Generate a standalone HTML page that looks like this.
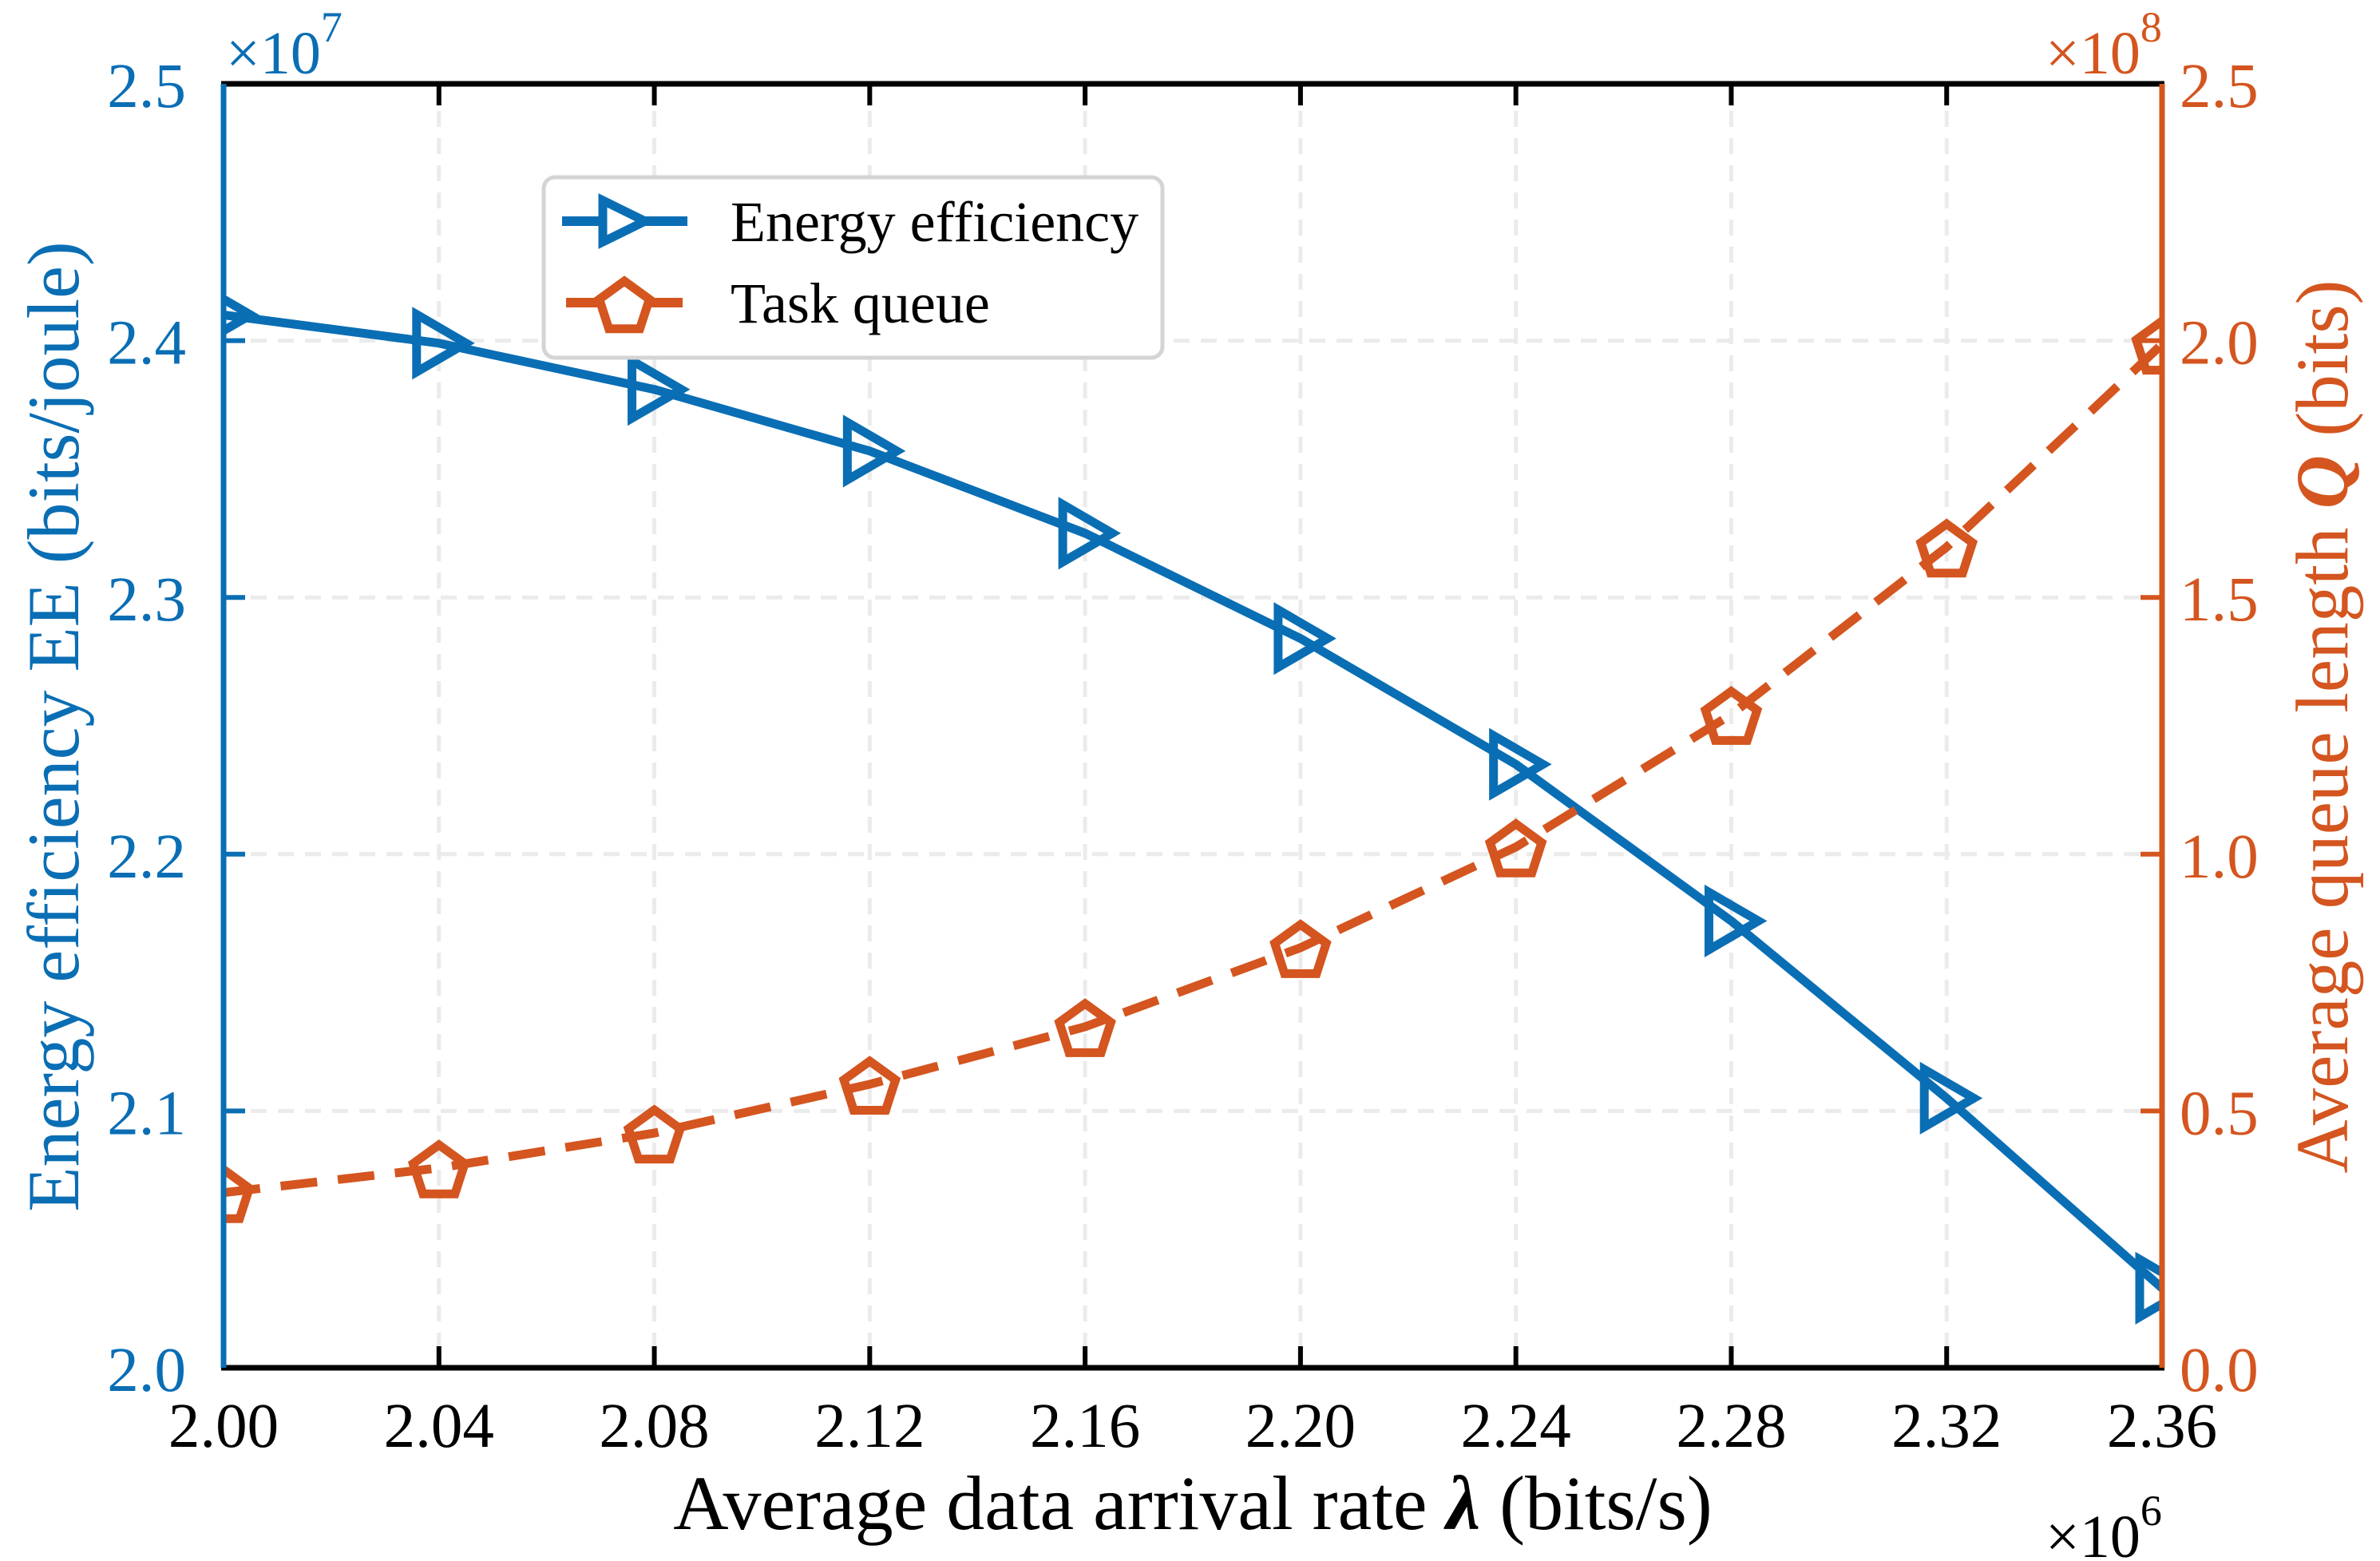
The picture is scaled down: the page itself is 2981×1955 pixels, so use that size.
<!DOCTYPE html>
<html><head><meta charset="utf-8"><style>
html,body{margin:0;padding:0;background:#fff;}
svg{display:block;font-family:"Liberation Serif",serif;}
</style></head><body>
<svg id="chart" width="2981" height="1955" viewBox="0 0 2981 1955" xmlns="http://www.w3.org/2000/svg">
<defs><clipPath id="plotclip"><rect x="280" y="105" width="2428" height="1608"/></clipPath></defs>
<g id="grid"></g>
<g id="series" clip-path="url(#plotclip)"></g>
<g id="axes"></g>
<g id="legend">
  <rect x="681" y="222" width="775" height="226" rx="14" fill="#fff" stroke="#d4d4d4" stroke-width="5"/>
  <g>
    <line x1="704" y1="277" x2="861" y2="277" stroke="#0a6eb4" stroke-width="12"/>
    <polygon points="755,251 808,277 755,303" fill="#fff" stroke="#0a6eb4" stroke-width="11"/>
    <text x="915" y="302" font-size="72" fill="#000">Energy efficiency</text>
  </g>
  <g>
    <line x1="709" y1="379" x2="855" y2="379" stroke="#d4551f" stroke-width="12"/>
    <polygon id="legpent" fill="#fff" stroke="#d4551f" stroke-width="11"/>
    <text x="915" y="404" font-size="72" fill="#000">Task queue</text>
  </g>
</g>
</svg>
<script>
const xTicks=[2.00,2.04,2.08,2.12,2.16,2.20,2.24,2.28,2.32,2.36];
const xTickLabels=["2.00","2.04","2.08","2.12","2.16","2.20","2.24","2.28","2.32","2.36"];
const yLeftTicks=[2.0,2.1,2.2,2.3,2.4,2.5];
const yLeftLabels=["2.0","2.1","2.2","2.3","2.4","2.5"];
const yRightTicks=[0,0.5,1.0,1.5,2.0,2.5];
const yRightLabels=["0.0","0.5","1.0","1.5","2.0","2.5"];
const xValues=[2.00,2.04,2.08,2.12,2.16,2.20,2.24,2.28,2.32,2.36];
const energyValues=[2.410,2.399,2.381,2.357,2.325,2.284,2.235,2.174,2.105,2.031];
const queueValues=[0.341,0.389,0.457,0.552,0.664,0.818,1.014,1.272,1.598,1.993];

const L=280,R=2708,T=105,B=1713;
const BLUE="#0a6eb4",ORANGE="#d4551f";
const NS="http://www.w3.org/2000/svg";
function X(v){return L+(v-2.00)/(0.36)*(R-L);}
function YL(v){return B-(v-2.0)/0.5*(B-T);}
function YR(v){return B-(v-0)/2.5*(B-T);}
function mk(tag,attrs,parent){const e=document.createElementNS(NS,tag);for(const k in attrs)e.setAttribute(k,attrs[k]);parent.appendChild(e);return e;}
function pent(cx,cy,r){let p=[];for(let i=0;i<5;i++){const a=-Math.PI/2+i*2*Math.PI/5;p.push((cx+r*Math.cos(a)).toFixed(1)+","+(cy+r*Math.sin(a)).toFixed(1));}return p.join(" ");}
document.getElementById('legpent').setAttribute('points',pent(782,385,33));

const grid=document.getElementById('grid'),series=document.getElementById('series'),axes=document.getElementById('axes');
xTicks.forEach((t,i)=>{
  const x=X(t);
  if(i>0&&i<xTicks.length-1){
    const g=mk('line',{x1:x,y1:T,x2:x,y2:B,stroke:'#ebebeb','stroke-width':5,'stroke-dasharray':'20,14'},grid);
    
    
  }
  const tb=mk('line',{x1:x,y1:B,x2:x,y2:B-27,stroke:'#000','stroke-width':6},axes);
  
  
  const tt=mk('line',{x1:x,y1:T,x2:x,y2:T+27,stroke:'#000','stroke-width':6},axes);
  
  
  const lb=mk('text',{x:x,y:B+99,'font-size':79,'text-anchor':'middle',fill:'#000'},axes);
  lb.textContent=xTickLabels[i];
  
  
});
yLeftTicks.forEach((t,i)=>{
  const y=YL(t);
  if(i>0&&i<yLeftTicks.length-1){
    const g=mk('line',{x1:L,y1:y,x2:R,y2:y,stroke:'#ebebeb','stroke-width':5,'stroke-dasharray':'20,14'},grid);
    
    
  }
  const tk=mk('line',{x1:L,y1:y,x2:L+27,y2:y,stroke:BLUE,'stroke-width':6},axes);
  
  
  const lb=mk('text',{x:L-47,y:y+29,'font-size':79,'text-anchor':'end',fill:BLUE},axes);
  lb.textContent=yLeftLabels[i];
  
  
});
yRightTicks.forEach((t,i)=>{
  const y=YR(t);
  const tk=mk('line',{x1:R,y1:y,x2:R-27,y2:y,stroke:ORANGE,'stroke-width':6},axes);
  
  
  const lb=mk('text',{x:R+22,y:y+29,'font-size':79,'text-anchor':'start',fill:ORANGE},axes);
  lb.textContent=yRightLabels[i];
  
  
});
let a=mk('line',{x1:L-3,y1:T,x2:R+3,y2:T,stroke:'#000','stroke-width':7},axes);

a=mk('line',{x1:L-3,y1:B,x2:R+3,y2:B,stroke:'#000','stroke-width':7},axes);

a=mk('line',{x1:L,y1:T,x2:L,y2:B,stroke:BLUE,'stroke-width':7},axes);

a=mk('line',{x1:R,y1:T,x2:R,y2:B,stroke:ORANGE,'stroke-width':7},axes);


const ep=xValues.map((x,i)=>X(x)+","+YL(energyValues[i])).join(" ");
const eline=mk('polyline',{points:ep,fill:'none',stroke:BLUE,'stroke-width':11,'stroke-linejoin':'round'},series);


const qp=xValues.map((x,i)=>X(x)+","+YR(queueValues[i])).join(" ");
const qline=mk('polyline',{points:qp,fill:'none',stroke:ORANGE,'stroke-width':11,'stroke-dasharray':'46,26'},series);


xValues.forEach((x,i)=>{
  const cx=X(x),cy=YL(energyValues[i]);
  const m=mk('polygon',{points:(cx-28)+","+(cy-36)+" "+(cx+34)+","+cy+" "+(cx-28)+","+(cy+36),fill:'none',stroke:BLUE,'stroke-width':11},series);
  
  
  const qy=YR(queueValues[i]);
  const q=mk('polygon',{points:pent(cx,qy+5,34),fill:'none',stroke:ORANGE,'stroke-width':11},series);
  
  
});
</script>
<svg style="position:absolute;left:0;top:0" width="2981" height="1955" xmlns="http://www.w3.org/2000/svg" font-family="Liberation Serif, serif">
  <text x="283" y="92" font-size="76" fill="#0a6eb4">×10<tspan font-size="54" dy="-40">7</tspan></text>
  <text x="2562" y="92" font-size="76" fill="#d4551f">×10<tspan font-size="54" dy="-40">8</tspan></text>
  <text x="2562" y="1950" font-size="76" fill="#000">×10<tspan font-size="54" dy="-40">6</tspan></text>
  <text x="1494" y="1915" font-size="96" text-anchor="middle" fill="#000">Average data arrival rate <tspan font-style="italic" font-weight="bold">λ</tspan> (bits/s)</text>
  <text transform="translate(98,910) rotate(-90)" font-size="92" text-anchor="middle" fill="#0a6eb4">Energy efficiency EE (bits/joule)</text>
  <text transform="translate(2940,910) rotate(-90)" font-size="93" text-anchor="middle" fill="#d4551f">Average queue length <tspan font-style="italic" font-weight="bold">Q</tspan> (bits)</text>
</svg>
</body></html>
